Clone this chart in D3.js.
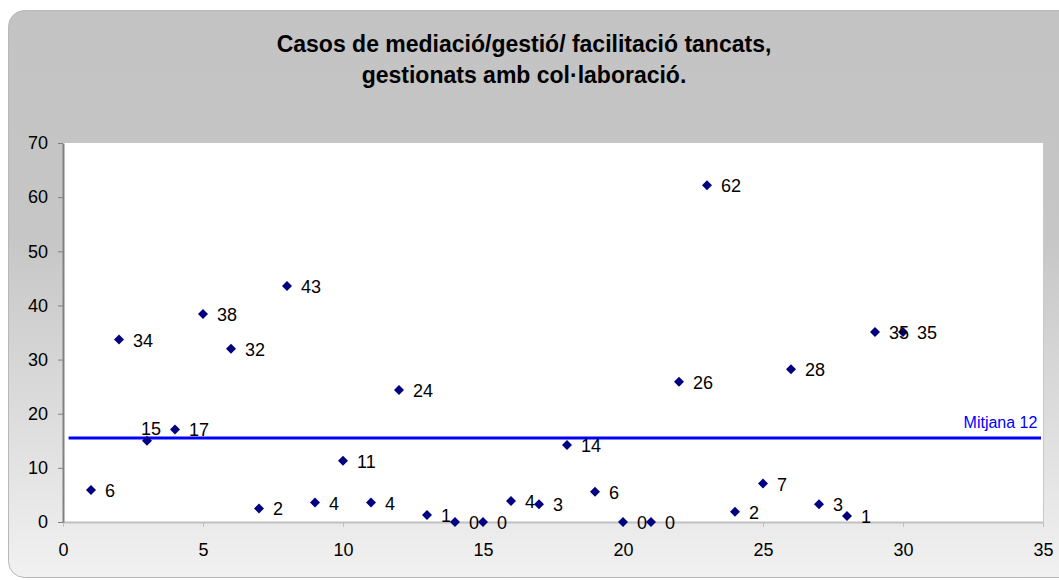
<!DOCTYPE html>
<html>
<head>
<meta charset="utf-8">
<script src="https://cdn.jsdelivr.net/npm/d3@7"></script>
<style>
  body { margin: 0; background: #fff; }
  text { font-family: "Liberation Sans", Arial, sans-serif; }
</style>
</head>
<body>
<div id="chart"></div>
<script>
"use strict";

// case number (x), plotted value (y) and the label Excel printed next to it
var caseNums = [1, 2, 3, 4, 5, 6, 7, 8, 9, 10, 11, 12, 13, 14, 15, 16, 17, 18, 19, 20, 21, 22, 23, 24, 25, 26, 27, 28, 29, 30];
var yValues = [5.9, 33.7, 15.0, 17.1, 38.4, 32.0, 2.5, 43.6, 3.6, 11.3, 3.6, 24.4, 1.3, 0, 0, 3.9, 3.3, 14.2, 5.6, 0, 0, 25.9, 62.2, 1.9, 7.1, 28.2, 3.3, 1.1, 35.1, 35.1];
var labels = ["6", "34", "15", "17", "38", "32", "2", "43", "4", "11", "4", "24", "1", "0", "0", "4", "3", "14", "6", "0", "0", "26", "62", "2", "7", "28", "3", "1", "35", "35"];
var meanValue = 15.5;
var meanLabel = "Mitjana 12";
var xTicks = [0, 5, 10, 15, 20, 25, 30, 35];
var yTicks = [0, 10, 20, 30, 40, 50, 60, 70];
var titleLines = ["Casos de mediació/gestió/ facilitació tancats,", "gestionats amb col·laboració."];

var W = 1059, H = 580;
var margin = { top: 143, right: 16, bottom: 58, left: 63 };
var width = W - margin.left - margin.right;
var height = H - margin.top - margin.bottom;

var svg = d3.select("#chart").append("svg").attr("width", W).attr("height", H);

var grad = svg.append("defs").append("linearGradient").attr("id", "bg").attr("x1", 0).attr("y1", 0).attr("x2", 0).attr("y2", 1);
grad.append("stop").attr("offset", "0").attr("stop-color", "#c3c3c3");
grad.append("stop").attr("offset", "0.4").attr("stop-color", "#c6c6c6");
grad.append("stop").attr("offset", "1").attr("stop-color", "#f1f1f1");

svg.append("rect").attr("x", 8.5).attr("y", 10.5).attr("width", W + 20).attr("height", 567).attr("rx", 16)
  .attr("fill", "url(#bg)").attr("stroke", "#b8b8b8");

svg.selectAll("text.title").data(titleLines).enter().append("text").attr("class", "title")
  .attr("x", 524).attr("y", function (d, i) { return 52 + i * 31; })
  .attr("text-anchor", "middle").attr("font-size", 23).attr("font-weight", "bold").attr("fill", "#000")
  .text(function (d) { return d; });

var g = svg.append("g").attr("transform", "translate(" + margin.left + "," + margin.top + ")");

var xScale = d3.scaleLinear().domain([0, 35]).range([0, width]);
var yScale = d3.scaleLinear().domain([0, 70]).range([height, 0]);

g.append("rect").attr("width", width).attr("height", height).attr("fill", "#fff");
g.append("line").attr("x1", width + 0.5).attr("x2", width + 0.5).attr("y1", 0).attr("y2", height).attr("stroke", "#c8c8c8");

var xAxis = g.append("g").attr("transform", "translate(0," + height + ")")
  .call(d3.axisBottom(xScale).tickValues(xTicks).tickSize(5).tickPadding(16).tickSizeOuter(0));
xAxis.select(".domain").attr("stroke", "#c0c0c0").attr("stroke-width", 2);
xAxis.selectAll(".tick line").attr("stroke", "#c0c0c0");
xAxis.selectAll("text").attr("font-size", 18).attr("fill", "#000").attr("font-family", "Liberation Sans, Arial, sans-serif");

var yAxis = g.append("g").call(d3.axisLeft(yScale).tickValues(yTicks).tickSize(5).tickPadding(10).tickSizeOuter(0));
yAxis.select(".domain").attr("stroke", "#808080").attr("stroke-width", 2);
yAxis.selectAll(".tick line").attr("stroke", "#808080");
yAxis.selectAll("text").attr("font-size", 18).attr("fill", "#000").attr("font-family", "Liberation Sans, Arial, sans-serif");

// mean line
g.append("line").attr("x1", xScale(0.2)).attr("x2", xScale(34.93))
  .attr("y1", yScale(meanValue)).attr("y2", yScale(meanValue))
  .attr("stroke", "#0000ff").attr("stroke-width", 3);
g.append("text").attr("x", xScale(34.8)).attr("y", yScale(meanValue) - 10)
  .attr("text-anchor", "end").attr("font-size", 16).attr("fill", "#0000ff").text(meanLabel);

var pts = caseNums.map(function (c, i) { return { x: c, y: yValues[i], label: labels[i] }; });

var marker = d3.symbol().type(d3.symbolSquare).size(50);
g.selectAll("path.pt").data(pts).enter().append("path").attr("class", "pt")
  .attr("d", marker)
  .attr("transform", function (d) { return "translate(" + xScale(d.x) + "," + yScale(d.y) + ") rotate(45)"; })
  .attr("fill", "#000080");

g.selectAll("text.lbl").data(pts).enter().append("text").attr("class", "lbl")
  .attr("x", function (d, i) { return xScale(d.x) + (i === 2 ? -6 : 14); })
  .attr("y", function (d, i) { return yScale(d.y) + (i === 2 ? -6 : 7); })
  .attr("font-size", 18).attr("fill", "#000")
  .text(function (d) { return d.label; });
</script>
</body>
</html>
